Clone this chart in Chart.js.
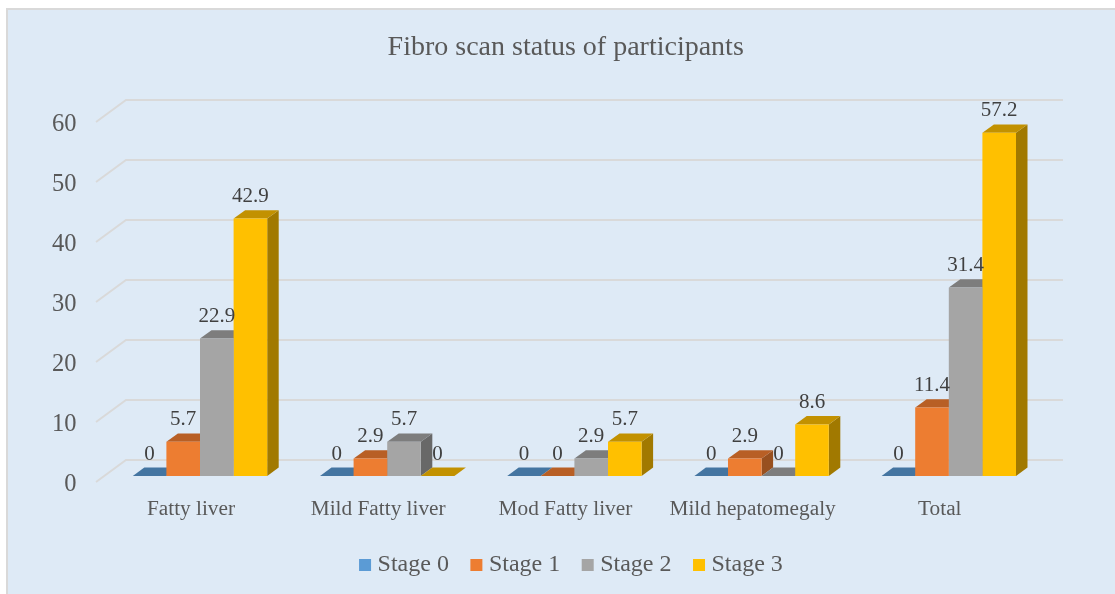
<!DOCTYPE html>
<html lang="en">
<head>
<meta charset="utf-8">
<title>Fibro scan status of participants</title>
<script src="https://cdn.jsdelivr.net/npm/chart.js"></script>
<style>
  html, body { margin: 0; padding: 0; background: #fff; overflow: hidden; }
  #panel { position: absolute; left: 6px; top: 8px; width: 1109px; height: 586px; box-sizing: border-box;
           background: #deeaf6; border-left: 2px solid #d9d9d9; border-top: 2px solid #d9d9d9; }
  #myChart { position: absolute; left: 7px; top: 0; }
</style>
</head>
<body>
<div id="panel"></div>
<canvas id="myChart" width="1118" height="594" style="width:1118px;height:594px"></canvas>
<script>
const categories = ['Fatty liver', 'Mild Fatty liver', 'Mod Fatty liver', 'Mild hepatomegaly', 'Total'];
const seriesNames = ['Stage 0', 'Stage 1', 'Stage 2', 'Stage 3'];
const stage0 = [0, 0, 0, 0, 0];
const stage1 = [5.7, 2.9, 0, 2.9, 11.4];
const stage2 = [22.9, 5.7, 2.9, 0, 31.4];
const stage3 = [42.9, 0, 5.7, 8.6, 57.2];

const frontColors = ['#5b9bd5', '#ed7d31', '#a5a5a5', '#ffc000'];
const topColors = ['#4475a1', '#b85f25', '#7d7d7d', '#c29100'];
const sideColors = ['#37608a', '#98501f', '#686868', '#a17900'];

const depthX = 11.5;
const depthY = 8.4;

const cubeBars = {
  id: 'cubeBars',
  afterLayout(chart) {
    // title and legend sit off centre in the original
    chart.titleBlock.left += 41;
    chart.titleBlock.right += 41;
    chart.legend.left += 49;
    chart.legend.right += 49;
    chart.legend.top -= 7;
    chart.legend.bottom -= 7;
  },
  beforeDatasetsDraw(chart) {
    const ctx = chart.ctx;
    const y = chart.scales.y;
    const area = chart.chartArea;
    // floor and back wall grid
    ctx.save();
    ctx.strokeStyle = '#d9d9d9';
    ctx.lineWidth = 2;
    y.ticks.forEach((t) => {
      const py = y.getPixelForValue(t.value);
      ctx.beginPath();
      ctx.moveTo(area.left - 10.4, py + 6);
      ctx.lineTo(area.left + 19.6, py - 16);
      ctx.lineTo(area.right + 20.6, py - 16);
      ctx.stroke();
    });
    // tops and sides go under the fronts so the next bar hides them
    chart.data.datasets.forEach((ds, i) => {
      chart.getDatasetMeta(i).data.forEach((bar) => {
        const l = bar.x - bar.width / 2;
        const r = bar.x + bar.width / 2;
        const t = bar.y;
        const b = bar.base;
        ctx.fillStyle = sideColors[i];
        ctx.beginPath();
        ctx.moveTo(r, t);
        ctx.lineTo(r + depthX, t - depthY);
        ctx.lineTo(r + depthX, b - depthY);
        ctx.lineTo(r, b);
        ctx.closePath();
        ctx.fill();
        ctx.fillStyle = topColors[i];
        ctx.beginPath();
        ctx.moveTo(l, t);
        ctx.lineTo(l + depthX, t - depthY);
        ctx.lineTo(r + depthX, t - depthY);
        ctx.lineTo(r, t);
        ctx.closePath();
        ctx.fill();
      });
    });
    ctx.restore();
  },
  afterDatasetsDraw(chart) {
    const ctx = chart.ctx;
    ctx.save();
    ctx.font = '21px "Liberation Serif"';
    ctx.fillStyle = '#404040';
    ctx.textAlign = 'center';
    ctx.textBaseline = 'middle';
    chart.data.datasets.forEach((ds, i) => {
      chart.getDatasetMeta(i).data.forEach((bar, j) => {
        ctx.fillText(String(ds.data[j]), bar.x, bar.y - 22);
      });
    });
    ctx.restore();
  }
};

const allSeries = [stage0, stage1, stage2, stage3];

new Chart(document.getElementById('myChart'), {
  type: 'bar',
  data: {
    labels: categories,
    datasets: seriesNames.map((name, i) => ({
      label: name,
      data: allSeries[i],
      backgroundColor: frontColors[i],
      borderWidth: 0,
      categoryPercentage: 0.718,
      barPercentage: 1
    }))
  },
  options: {
    responsive: false,
    animation: false,
    layout: { autoPadding: false, padding: { left: 0, right: 82.6, top: 0, bottom: 0 } },
    plugins: {
      tooltip: { enabled: false },
      title: {
        display: true,
        text: 'Fibro scan status of participants',
        color: '#595959',
        font: { family: '"Liberation Serif"', size: 28, weight: 'normal', lineHeight: 1.2 },
        padding: { top: 31, bottom: 51.4 }
      },
      legend: {
        position: 'bottom',
        labels: {
          color: '#595959',
          font: { family: '"Liberation Serif"', size: 24 },
          usePointStyle: true,
          pointStyle: 'rect',
          boxWidth: 1,
          boxHeight: 12,
          padding: 27
        }
      }
    },
    scales: {
      x: {
        grid: { display: false },
        border: { display: false },
        ticks: {
          color: '#595959',
          font: { family: '"Liberation Serif"', size: 21.3 },
          padding: 13,
          labelOffset: -9,
          maxRotation: 0,
          autoSkip: false
        },
        afterFit(scale) { scale.height = 118 - scale.chart.legend.height; }
      },
      y: {
        min: 0,
        max: 60,
        grid: { display: false },
        border: { display: false },
        ticks: {
          stepSize: 10,
          color: '#595959',
          font: { family: '"Liberation Serif"', size: 24.5 },
          padding: 22,
          labelOffset: 9
        },
        afterFit(scale) { scale.width = 99.4; }
      }
    }
  },
  plugins: [cubeBars]
});
</script>
</body>
</html>
